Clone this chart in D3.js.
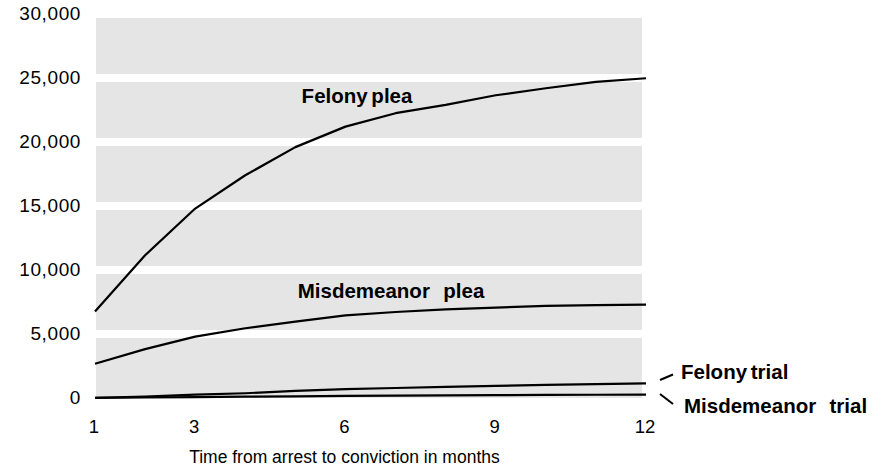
<!DOCTYPE html>
<html lang="en">
  <head>
    <meta charset="utf-8" />
    <title>Time from arrest to conviction</title>
    <script src="https://d3js.org/d3.v7.min.js"></script>
    <style>
      body { margin: 0; background: #fff; }
      svg { display: block; font-family: "Liberation Sans", Arial, Helvetica, sans-serif; }
    </style>
  </head>
  <body>
    <div id="chart"></div>
    <script>
      // months since arrest
      const months = [1, 2, 3, 4, 5, 6, 7, 8, 9, 10, 11, 12];
      const monthTicks = [1, 3, 6, 9, 12];
      const countTicks = [0, 5000, 10000, 15000, 20000, 25000, 30000];

      // cumulative convictions
      const felonyPlea = [6750, 11150, 14800, 17400, 19600, 21200, 22250, 22900, 23650, 24200, 24700, 24980];
      const misdemeanorPlea = [2680, 3820, 4800, 5450, 5960, 6450, 6720, 6920, 7060, 7200, 7260, 7300];
      const felonyTrial = [20, 100, 260, 370, 560, 690, 780, 870, 950, 1020, 1090, 1140];
      const misdemeanorTrial = [10, 40, 70, 100, 130, 160, 180, 200, 220, 240, 255, 270];

      const seriesNames = ["Felony plea", "Misdemeanor plea", "Felony trial", "Misdemeanor trial"];
      const seriesValues = [felonyPlea, misdemeanorPlea, felonyTrial, misdemeanorTrial];

      const width = 877;
      const height = 470;

      const svg = d3.select("#chart")
        .append("svg")
        .attr("width", width)
        .attr("height", height);

      const x = d3.scaleLinear().domain([1, 12]).range([95, 646]);
      const y = d3.scaleLinear().domain([0, 30000]).range([398, 14]);

      // grey bands between gridlines, white gap on each gridline
      const bands = countTicks.slice(0, -1);
      svg.selectAll(".band")
        .data(bands)
        .enter()
        .append("rect")
        .attr("class", "band")
        .attr("x", x(1) + 1)
        .attr("width", x(12) - x(1) - 5)
        .attr("y", (d) => y(d + 5000) + 4)
        .attr("height", (d) => (d === 0 ? y(d) : y(d) - 4) - (y(d + 5000) + 4))
        .attr("fill", "#e5e5e5");

      // y labels
      svg.selectAll(".ylab")
        .data(countTicks)
        .enter()
        .append("text")
        .attr("class", "ylab")
        .attr("x", 81)
        .attr("y", (d) => y(d) + 1)
        .attr("text-anchor", "end")
        .attr("dominant-baseline", "middle")
        .style("font-size", "19px")
        .style("letter-spacing", "0.6px")
        .attr("fill", "#000")
        .text((d) => d3.format(",")(d));

      // x labels
      svg.selectAll(".xlab")
        .data(monthTicks)
        .enter()
        .append("text")
        .attr("class", "xlab")
        .attr("x", (d) => x(d) - 1)
        .attr("y", 433)
        .attr("text-anchor", "middle")
        .style("font-size", "18.5px")
        .attr("fill", "#000")
        .text((d) => d);

      svg.append("text")
        .attr("x", x(6) - 1)
        .attr("y", 463)
        .attr("text-anchor", "middle")
        .style("font-size", "17.5px")
        .attr("fill", "#000")
        .text("Time from arrest to conviction in months");

      const line = d3.line()
        .x((d, i) => x(months[i]))
        .y((d) => y(d));

      svg.selectAll(".series")
        .data(seriesValues)
        .enter()
        .append("path")
        .attr("class", "series")
        .attr("d", (d) => line(d))
        .attr("fill", "none")
        .attr("stroke", "#000")
        .attr("stroke-width", 2.2)
        .attr("stroke-linejoin", "round");

      // series labels
      const labels = [
        { text: "Felony plea", x: 357, y: 103, anchor: "middle", ws: -2 },
        { text: "Misdemeanor  plea", x: 391, y: 298, anchor: "middle", ws: 1 },
        { text: "Felony trial", x: 681, y: 379, anchor: "start", ws: -2 },
        { text: "Misdemeanor  trial", x: 684, y: 413, anchor: "start", ws: 1 },
      ];
      svg.selectAll(".slab")
        .data(labels)
        .enter()
        .append("text")
        .attr("class", "slab")
        .attr("x", (d) => d.x)
        .attr("y", (d) => d.y)
        .attr("text-anchor", (d) => d.anchor)
        .style("font-size", "20.5px")
        .style("font-weight", "bold")
        .style("word-spacing", (d) => d.ws + "px")
        .style("white-space", "pre")
        .attr("fill", "#000")
        .text((d) => d.text);

      // little leader ticks for the trial labels
      svg.append("line")
        .attr("x1", 660).attr("y1", 380).attr("x2", 673).attr("y2", 374.5)
        .attr("stroke", "#000").attr("stroke-width", 2);
      svg.append("line")
        .attr("x1", 660).attr("y1", 394).attr("x2", 673).attr("y2", 404)
        .attr("stroke", "#000").attr("stroke-width", 2);
    </script>
  </body>
</html>
